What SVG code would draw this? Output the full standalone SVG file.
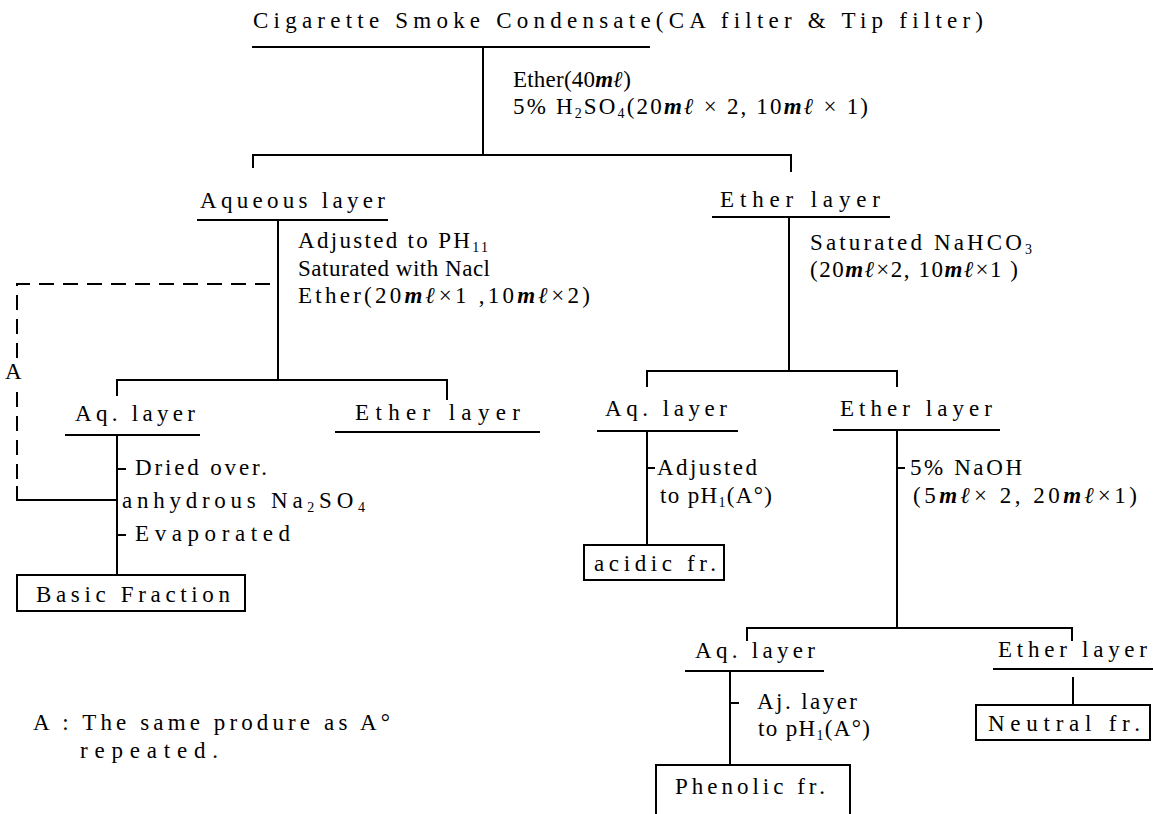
<svg xmlns="http://www.w3.org/2000/svg" width="1153" height="814" viewBox="0 0 1153 814">
<style>
.t{font-family:"Liberation Serif","Times New Roman",serif;font-size:23px;fill:#000}
.ml{font-style:italic;font-weight:bold}
.sb{font-size:14px}
.ln{stroke:#000;stroke-width:2;fill:none}
.ds{stroke:#000;stroke-width:2;fill:none;stroke-dasharray:15 9}
.bx{stroke:#000;stroke-width:2;fill:#fff}
</style>
<rect width="1153" height="814" fill="#fff"/>
<g id="connectors">
<path class="ln" d="M252,47 H650"/>
<path class="ln" d="M483,47 V155"/>
<path class="ln" d="M253,168 V155 H791 V172"/>
<path class="ln" d="M197,220 H388"/>
<path class="ln" d="M712,217 H890"/>
<path class="ln" d="M278,220 V380"/>
<path class="ln" d="M789,217 V371"/>
<path class="ds" d="M270,284 H17 V360"/>
<path class="ds" d="M17,392 V488"/>
<path class="ln" d="M17,486 V500 H117"/>
<path class="ln" d="M117,396 V380 H447 V400"/>
<path class="ln" d="M65,435 H200"/>
<path class="ln" d="M335,432 H540"/>
<path class="ln" d="M117,435 V575"/>
<path class="ln" d="M117,469 H126"/>
<path class="ln" d="M117,535 H126"/>
<path class="ln" d="M647,387 V371 H897 V387"/>
<path class="ln" d="M597,431 H738"/>
<path class="ln" d="M833,430 H1000"/>
<path class="ln" d="M647,431 V545"/>
<path class="ln" d="M647,468 H655"/>
<path class="ln" d="M897,430 V628"/>
<path class="ln" d="M897,468 H905"/>
<path class="ln" d="M747,641 V628 H1072 V641"/>
<path class="ln" d="M685,671 H824"/>
<path class="ln" d="M993,669 H1153"/>
<path class="ln" d="M730,671 V765"/>
<path class="ln" d="M730,703 H739"/>
<path class="ln" d="M1073,677 V705"/>
</g>
<g id="n-title"><text class="t" x="253" y="28" textLength="730" lengthAdjust="spacing">Cigarette Smoke Condensate(CA filter &amp; Tip filter)</text></g>
<g id="l-step1">
<text class="t" x="513" y="87" textLength="118" lengthAdjust="spacing">Ether(40<tspan class="ml">mℓ</tspan>)</text>
<text class="t" x="513" y="114" textLength="355" lengthAdjust="spacing">5% H<tspan class="sb" dy="4">2</tspan><tspan dy="-4">SO</tspan><tspan class="sb" dy="4">4</tspan><tspan dy="-4">(20</tspan><tspan class="ml">mℓ</tspan> × 2, 10<tspan class="ml">mℓ</tspan> × 1)</text>
</g>
<g id="n-aqueous"><text class="t" x="200" y="208" textLength="185" lengthAdjust="spacing">Aqueous layer</text></g>
<g id="n-ether1"><text class="t" x="720" y="207" textLength="160" lengthAdjust="spacing">Ether layer</text></g>
<g id="l-step2">
<text class="t" x="298" y="248" textLength="190" lengthAdjust="spacing">Adjusted to PH<tspan class="sb" dy="4">11</tspan></text>
<text class="t" x="298" y="276" textLength="192" lengthAdjust="spacing">Saturated with Nacl</text>
<text class="t" x="298" y="303" textLength="292" lengthAdjust="spacing">Ether(20<tspan class="ml">mℓ</tspan>×1 ,10<tspan class="ml">mℓ</tspan>×2)</text>
</g>
<g id="l-step3">
<text class="t" x="810" y="250" textLength="222" lengthAdjust="spacing">Saturated NaHCO<tspan class="sb" dy="4">3</tspan></text>
<text class="t" x="810" y="277" textLength="208" lengthAdjust="spacing">(20<tspan class="ml">mℓ</tspan>×2, 10<tspan class="ml">mℓ</tspan>×1 )</text>
</g>
<g id="l-A"><text class="t" x="5" y="379">A</text></g>
<g id="n-aq2"><text class="t" x="75" y="421" textLength="120" lengthAdjust="spacing">Aq. layer</text></g>
<g id="n-ether2"><text class="t" x="355" y="420" textLength="165" lengthAdjust="spacing">Ether layer</text></g>
<g id="l-step4">
<text class="t" x="135" y="475" textLength="132" lengthAdjust="spacing">Dried over.</text>
<text class="t" x="122" y="508" textLength="243" lengthAdjust="spacing">anhydrous Na<tspan class="sb" dy="4">2</tspan><tspan dy="-4">SO</tspan><tspan class="sb" dy="4">4</tspan></text>
<text class="t" x="135" y="541" textLength="155" lengthAdjust="spacing">Evaporated</text>
</g>
<g id="n-basic"><rect class="bx" x="17" y="575" width="228" height="36"/><text class="t" x="36" y="602" textLength="194" lengthAdjust="spacing">Basic Fraction</text></g>
<g id="n-aq3"><text class="t" x="605" y="416" textLength="122" lengthAdjust="spacing">Aq. layer</text></g>
<g id="n-ether3"><text class="t" x="840" y="416" textLength="152" lengthAdjust="spacing">Ether layer</text></g>
<g id="l-step5">
<text class="t" x="657" y="475" textLength="100" lengthAdjust="spacing">Adjusted</text>
<text class="t" x="660" y="503" textLength="112" lengthAdjust="spacing">to pH<tspan class="sb" dy="4">1</tspan><tspan dy="-4">(A°)</tspan></text>
</g>
<g id="n-acidic"><rect class="bx" x="584" y="545" width="140" height="35"/><text class="t" x="594" y="571" textLength="122" lengthAdjust="spacing">acidic fr.</text></g>
<g id="l-step6">
<text class="t" x="910" y="475" textLength="112" lengthAdjust="spacing">5% NaOH</text>
<text class="t" x="913" y="503" textLength="224" lengthAdjust="spacing">(5<tspan class="ml">mℓ</tspan>× 2, 20<tspan class="ml">mℓ</tspan>×1)</text>
</g>
<g id="n-aq4"><text class="t" x="695" y="658" textLength="120" lengthAdjust="spacing">Aq. layer</text></g>
<g id="n-ether4"><text class="t" x="998" y="657" textLength="149" lengthAdjust="spacing">Ether layer</text></g>
<g id="l-step7">
<text class="t" x="757" y="709" textLength="100" lengthAdjust="spacing">Aj. layer</text>
<text class="t" x="758" y="736" textLength="112" lengthAdjust="spacing">to pH<tspan class="sb" dy="4">1</tspan><tspan dy="-4">(A°)</tspan></text>
</g>
<g id="n-neutral"><rect class="bx" x="976" y="705" width="174" height="35"/><text class="t" x="988" y="731" textLength="152" lengthAdjust="spacing">Neutral fr.</text></g>
<g id="n-phenolic"><rect class="bx" x="656" y="765" width="194" height="60"/><text class="t" x="675" y="794" textLength="150" lengthAdjust="spacing">Phenolic fr.</text></g>
<g id="note">
<text class="t" x="33" y="730" textLength="357" lengthAdjust="spacing">A : The same produre as A°</text>
<text class="t" x="80" y="758" textLength="138" lengthAdjust="spacing">repeated.</text>
</g>
</svg>
